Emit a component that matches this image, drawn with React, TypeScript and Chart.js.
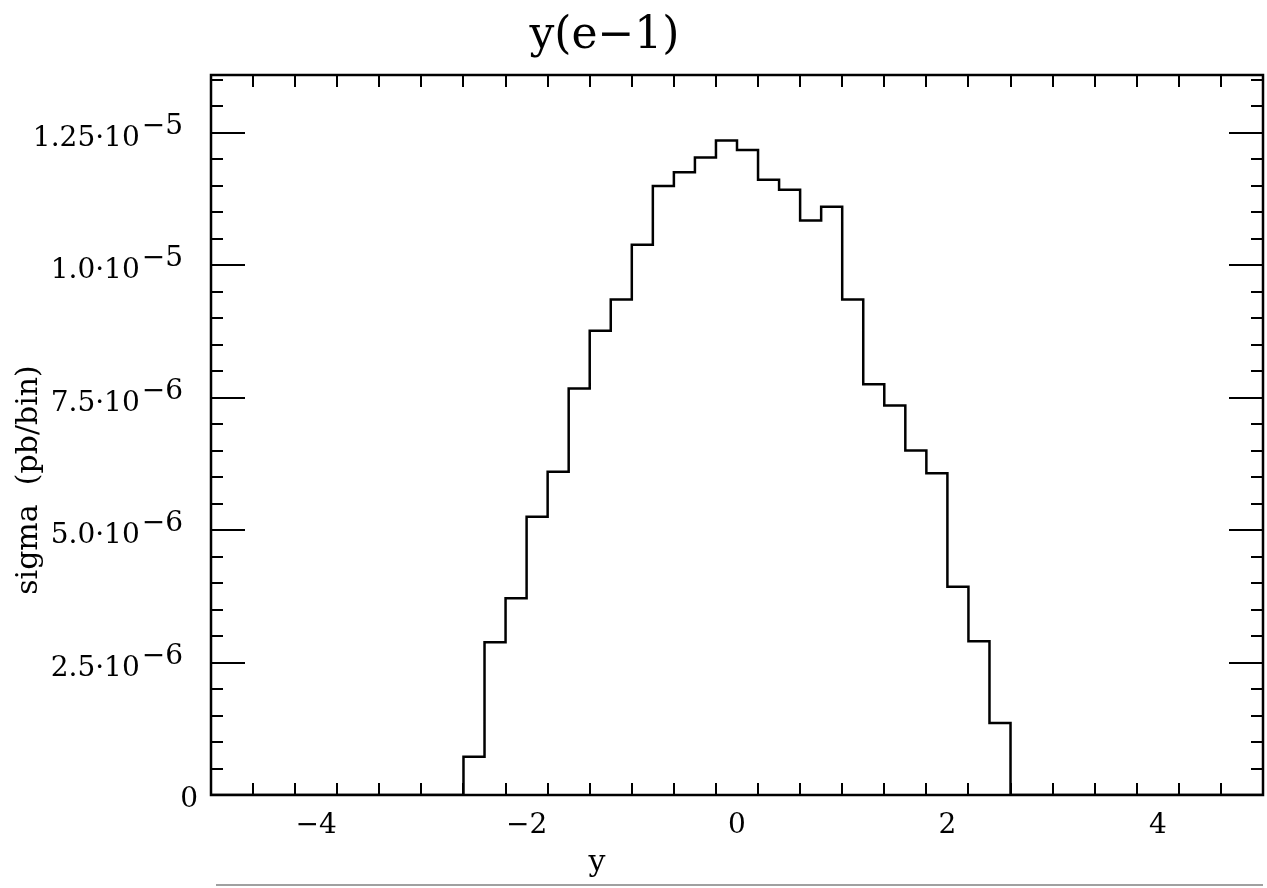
import React, { useEffect, useRef } from "react";
import { Chart, registerables } from "chart.js";

Chart.register(...registerables);

// Histogram bins (lower edges, width 0.2) and values (pb/bin)
const binLowEdges = [
  -2.6, -2.4, -2.2, -2.0, -1.8, -1.6, -1.4, -1.2, -1.0, -0.8, -0.6, -0.4, -0.2,
  0.0, 0.2, 0.4, 0.6, 0.8, 1.0, 1.2, 1.4, 1.6, 1.8, 2.0, 2.2, 2.4,
];
const binValues = [
  7.2e-7, 2.88e-6, 3.71e-6, 5.25e-6, 6.1e-6, 7.67e-6, 8.76e-6, 9.35e-6, 1.038e-5,
  1.149e-5, 1.175e-5, 1.203e-5, 1.235e-5, 1.217e-5, 1.161e-5, 1.142e-5, 1.084e-5,
  1.11e-5, 9.35e-6, 7.75e-6, 7.35e-6, 6.5e-6, 6.07e-6, 3.93e-6, 2.9e-6, 1.36e-6,
];
const binWidth = 0.2;
const xRange = [-5, 5];

const xMajorTicks = [-4, -2, 0, 2, 4];
const xTickLabels = ["\u22124", "\u22122", "0", "2", "4"];
const yMajorTicks = [0, 2.5e-6, 5e-6, 7.5e-6, 1e-5, 1.25e-5];
const yTickMantissa = ["0", "2.5", "5.0", "7.5", "1.0", "1.25"];
const yTickExponent = ["", "\u22126", "\u22126", "\u22126", "\u22125", "\u22125"];

const titleText = "y(e\u22121)";
const xAxisLabel = "y";
const yAxisLabel = "sigma  (pb/bin)";

const FONT = "'DejaVu Serif', serif";

const axesPlugin = {
  id: "hepAxes",
  afterDraw(chart: any) {
    const { ctx, chartArea } = chart;
    const xs = chart.scales.x;
    const ys = chart.scales.y;
    const { left, right, top, bottom } = chartArea;
    ctx.save();
    ctx.strokeStyle = "#000";
    ctx.fillStyle = "#000";
    ctx.lineWidth = 2;
    ctx.lineCap = "butt";

    const major = 34;
    const minor = 12;
    ctx.beginPath();
    // x ticks
    for (let i = -50; i <= 50; i += 4) {
      const v = i / 10;
      if (v <= xRange[0] || v >= xRange[1]) continue;
      const px = Math.round(xs.getPixelForValue(v));
      const len = i % 20 === 0 ? major : minor;
      ctx.moveTo(px, bottom);
      ctx.lineTo(px, bottom - len);
      ctx.moveTo(px, top);
      ctx.lineTo(px, top + len);
    }
    // y ticks
    for (let i = 1; i < 100; i++) {
      const v = i * 5e-7;
      if (v >= ys.max) break;
      const py = Math.round(ys.getPixelForValue(v));
      const len = i % 5 === 0 ? major : minor;
      ctx.moveTo(left, py);
      ctx.lineTo(left + len, py);
      ctx.moveTo(right, py);
      ctx.lineTo(right - len, py);
    }
    ctx.stroke();

    // frame
    ctx.lineWidth = 2.5;
    ctx.strokeRect(left, top, right - left, bottom - top);

    // x tick labels
    ctx.font = `28px ${FONT}`;
    ctx.textAlign = "center";
    ctx.textBaseline = "alphabetic";
    xMajorTicks.forEach((v, i) => {
      ctx.fillText(xTickLabels[i], xs.getPixelForValue(v), bottom + 38);
    });

    // y tick labels
    const rightEdge = left - 28;
    yMajorTicks.forEach((v, i) => {
      const py = ys.getPixelForValue(v);
      ctx.textAlign = "right";
      ctx.textBaseline = "alphabetic";
      if (!yTickExponent[i]) {
        ctx.fillText(yTickMantissa[i], left - 13, py + 12);
        return;
      }
      const expW = ctx.measureText(yTickExponent[i]).width;
      ctx.fillText(yTickExponent[i], rightEdge, py + 1);
      ctx.fillText(yTickMantissa[i] + "\u00b710", rightEdge - expW - 2, py + 13);
    });

    // title
    ctx.font = `44px ${FONT}`;
    ctx.textAlign = "center";
    ctx.textBaseline = "middle";
    ctx.fillText(titleText, left + (right - left) * 0.374, 37);

    // x axis label
    ctx.font = `30px ${FONT}`;
    ctx.fillText(xAxisLabel, left + (right - left) * 0.367, bottom + 68);

    // y axis label
    ctx.save();
    ctx.translate(29, 480);
    ctx.rotate(-Math.PI / 2);
    ctx.font = `30px ${FONT}`;
    ctx.textAlign = "center";
    ctx.textBaseline = "middle";
    ctx.fillText(yAxisLabel, 0, 0);
    ctx.restore();

    // gray rule below
    ctx.strokeStyle = "#a0a0a0";
    ctx.lineWidth = 2;
    ctx.beginPath();
    ctx.moveTo(left + 5, bottom + 90);
    ctx.lineTo(right, bottom + 90);
    ctx.stroke();
    ctx.restore();
  },
};

export default function App() {
  const ref = useRef<HTMLCanvasElement>(null);
  useEffect(() => {
    if (!ref.current) return;
    const pts: { x: number; y: number }[] = [{ x: xRange[0], y: 0 }];
    binLowEdges.forEach((x, i) => pts.push({ x, y: binValues[i] }));
    pts.push({ x: binLowEdges[binLowEdges.length - 1] + binWidth, y: 0 });
    pts.push({ x: xRange[1], y: 0 });
    const ymax = Math.max(...binValues) * 1.1;
    const chart = new Chart(ref.current, {
      type: "line",
      data: {
        datasets: [
          {
            data: pts,
            stepped: "before",
            borderColor: "#000",
            borderWidth: 2.5,
            pointRadius: 0,
            fill: false,
          },
        ],
      },
      options: {
        animation: false,
        responsive: false,
        events: [],
        layout: { padding: { left: 211, right: 4, top: 75, bottom: 93 } },
        plugins: { legend: { display: false }, tooltip: { enabled: false } },
        scales: {
          x: { type: "linear", min: xRange[0], max: xRange[1], display: false },
          y: { type: "linear", min: 0, max: ymax, display: false },
        },
      },
      plugins: [axesPlugin],
    });
    return () => chart.destroy();
  }, []);
  return (
    <div style={{ position: "fixed", left: 0, top: 0, width: 1267, height: 888, background: "#fff" }}>
      <canvas ref={ref} width={1267} height={888} style={{ width: 1267, height: 888 }} />
    </div>
  );
}
